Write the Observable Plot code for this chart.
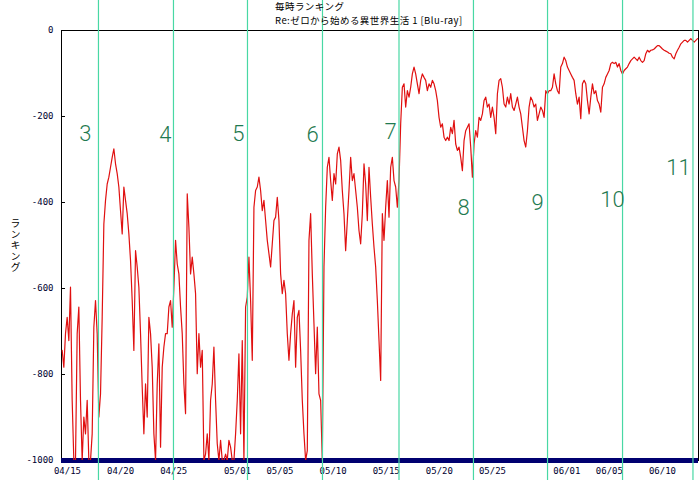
<!DOCTYPE html>
<html><head><meta charset="utf-8">
<script src="https://cdn.jsdelivr.net/npm/d3@7"></script>
<script src="https://cdn.jsdelivr.net/npm/@observablehq/plot@0.6"></script>
<style>
body{margin:0;background:#fff;}
#wrap{position:relative;width:700px;height:480px;overflow:hidden;background:#fff;}
#chart{position:absolute;left:0;top:0;}
#title{position:absolute;left:275px;top:0px;font-family:"Noto Sans CJK JP";font-size:9.5px;line-height:13.9px;letter-spacing:0.45px;color:#000;white-space:nowrap;}
#ylab{position:absolute;left:10px;top:218px;writing-mode:vertical-rl;text-orientation:upright;font-family:"Noto Sans CJK JP";font-size:10px;letter-spacing:1px;color:#000;line-height:10px;}
</style></head>
<body>
<div id="wrap"><div id="chart"></div>
<div id="title">毎時ランキング<br>Re:ゼロから始める異世界生活 1 [Blu-ray]</div>
<div id="ylab">ランキング</div>
</div>
<script>
// hourly ranking samples (every 226 minutes from 2016-04-14 12:00 UTC)
const startTime = "2016-04-14T12:00:00Z";
const stepMinutes = 226;
const rank = [
-744,-783,-705,-667,-721,-597,-860,-1000,-1000,-705,
-643,-860,-1000,-899,-938,-860,-1000,-1000,-938,-690,
-628,-705,-899,-845,-667,-450,-395,-357,-341,-318,
-295,-275,-310,-333,-364,-419,-473,-364,-395,-426,
-473,-535,-628,-744,-512,-550,-597,-705,-829,-938,
-822,-899,-667,-705,-783,-938,-1000,-822,-729,-969,
-783,-736,-705,-705,-643,-628,-690,-597,-488,-543,
-566,-643,-705,-822,-891,-380,-457,-566,-527,-566,
-612,-798,-705,-783,-744,-1000,-985,-938,-1000,-860,
-822,-736,-860,-961,-1000,-953,-1000,-1000,-985,-1000,
-953,-969,-1000,-1000,-938,-860,-752,-938,-721,-1000,
-643,-620,-527,-628,-767,-411,-372,-364,-341,-372,
-419,-395,-442,-488,-519,-550,-496,-442,-434,-388,
-442,-566,-612,-581,-612,-705,-767,-705,-659,-628,
-783,-667,-651,-744,-860,-938,-1000,-977,-488,-426,
-566,-682,-798,-690,-845,-860,-1000,-550,-411,-318,
-295,-349,-395,-333,-357,-287,-271,-302,-372,-426,
-512,-442,-372,-295,-349,-333,-372,-411,-465,-496,
-426,-310,-357,-442,-318,-388,-450,-504,-550,-628,
-721,-814,-426,-488,-411,-349,-434,-318,-295,-349,
-364,-411,-349,-217,-132,-124,-178,-140,-155,-132,
-101,-85,-101,-124,-147,-116,-101,-109,-116,-140,
-124,-132,-116,-124,-140,-163,-202,-225,-217,-248,
-256,-248,-256,-225,-240,-209,-264,-279,-271,-295,
-326,-256,-233,-225,-217,-271,-341,-264,-233,-248,
-202,-209,-194,-163,-155,-178,-171,-202,-178,-202,
-240,-147,-116,-112,-132,-171,-178,-155,-171,-147,
-178,-186,-171,-155,-178,-194,-225,-256,-271,-233,
-178,-155,-163,-178,-171,-209,-194,-178,-186,-202,
-140,-147,-140,
-140,-132,-101,-124,-140,-147,-85,-77,-62,-70,
-85,-93,-101,-109,-116,-147,-171,-155,-205,-124,
-116,-124,-163,-194,-155,-124,-147,-140,-163,-171,
-190,-132,-124,-109,-101,-93,-77,-74,-77,-74,
-85,-77,-93,-101,-93,-89,-85,-77,-70,-66,
-62,-66,-70,-62,-70,-74,-70,-54,-46,-50,
-46,-45,-43,-39,-35,-35,-39,-43,-46,-48,
-50,-53,-54,-62,-66,-54,-46,-39,-31,-27,
-23,-23,-27,-23,-19,-23,-27,-23,-19
];
const tickDates = ["2016-04-15","2016-04-20","2016-04-25","2016-05-01","2016-05-05","2016-05-10","2016-05-15","2016-05-20","2016-05-25","2016-06-01","2016-06-05","2016-06-10"];
const tickLabels = ["04/15","04/20","04/25","05/01","05/05","05/10","05/15","05/20","05/25","06/01","06/05","06/10"];
const yTicks = [0,-200,-400,-600,-800,-1000];
const weekLines = ["2016-04-17T22:00Z","2016-04-24T23:25Z","2016-05-01T22:35Z","2016-05-09T00:00Z","2016-05-16T04:50Z","2016-05-23T05:00Z","2016-05-30T04:20Z","2016-06-06T05:45Z","2016-06-12T20:50Z"];
const epLabels = ["3","4","5","6","7","8","9","10","11"];
const epDates = ["2016-04-16T16:30Z","2016-04-24T05:20Z","2016-05-01T02:10Z","2016-05-08T01:25Z","2016-05-15T09:36Z","2016-05-22T06:30Z","2016-05-29T05:45Z","2016-06-05T07:10Z","2016-06-11T12:00Z"];
const epRanks = [-240,-244,-240,-244,-237,-412,-402,-395,-319];

const t0 = new Date(startTime).getTime();
const series = rank.map((r, i) => ({t: new Date(t0 + i * stepMinutes * 60000), r}));
const tickD = tickDates.map(d => new Date(d + "T00:00:00Z"));
const labelMap = new Map(tickD.map((d, i) => [+d, tickLabels[i]]));
const xDomain = [new Date("2016-04-14T10:30:00Z"), new Date("2016-06-13T09:20:00Z")];
const tickEnd = new Date(xDomain[0].getTime() + 9 * 3600000);
const lines = weekLines.map(d => new Date(d));
const eps = epLabels.map((l, i) => ({l, t: new Date(epDates[i]), r: epRanks[i]}));

const mono = "DejaVu Sans Mono, monospace";
const chart = Plot.plot({
  width: 700, height: 480,
  marginLeft: 61, marginRight: 2, marginTop: 30, marginBottom: 20,
  style: {background: "transparent", overflow: "visible"},
  x: {type: "utc", domain: xDomain},
  y: {domain: [-1000, 0]},
  marks: [
    Plot.frame({stroke: "#000", strokeWidth: 1}),
    Plot.axisX({ticks: tickD, tickFormat: d => labelMap.get(+d), tickSize: 0, tickPadding: 7, fontFamily: mono, fontSize: 9, fill: "#000030", label: null}),
    Plot.axisY({ticks: yTicks, tickFormat: d => String(d), tickSize: 0, tickPadding: 8, fontFamily: mono, fontSize: 9, fill: "#000030", label: null}),
    Plot.ruleY(yTicks, {y: d => d, x1: xDomain[0], x2: tickEnd, stroke: "#000"}),
    Plot.ruleY([-1000], {stroke: "#000070", strokeWidth: 5}),
    Plot.line(series, {x: "t", y: "r", stroke: "#e01010", strokeWidth: 1.2, clip: true}),
    Plot.ruleX(lines, {x: d => d, y1: 70, y2: -1050, stroke: "#48d8a4", strokeWidth: 1.2}),
    Plot.text(eps, {x: "t", y: "r", text: "l", fontSize: 22, fill: "#1f7a50", fontFamily: "Roboto", fontWeight: 300})
  ]
});
document.getElementById("chart").appendChild(chart);
</script>
</body></html>
